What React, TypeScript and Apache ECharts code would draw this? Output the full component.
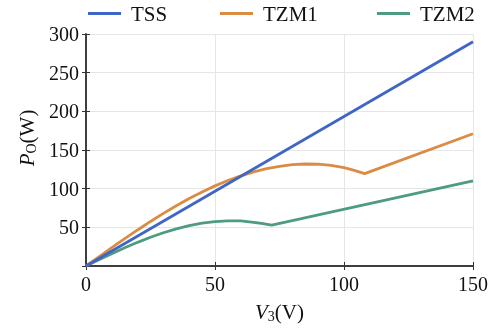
import React, { useEffect, useRef } from "react";
import * as echarts from "echarts";

const TSS_V = [0, 150];
const TSS_P = [0, 290];

const TZM1_V = [0, 5, 10, 15, 20, 25, 30, 35, 40, 45, 50, 55, 60, 65, 70, 75, 80, 85, 90, 95, 100, 104, 108, 150];
const TZM1_P = [0, 11.9, 23.7, 35.3, 46.6, 57.6, 68.1, 78.0, 87.3, 95.8, 103.6, 110.6, 116.6, 121.7, 125.8, 128.9, 131.0, 131.9, 131.6, 130.2, 127.2, 123.6, 119.5, 171];

const TZM2_V = [0, 5, 10, 15, 20, 25, 30, 35, 40, 45, 50, 55, 60, 65, 68, 72, 150];
const TZM2_P = [0, 8.0, 15.9, 23.5, 30.6, 37.2, 43.0, 48.1, 52.2, 55.3, 57.4, 58.4, 58.3, 56.5, 55.0, 52.9, 110];

const X_TICKS = [0, 50, 100, 150];
const Y_TICKS = [0, 50, 100, 150, 200, 250, 300];

const zip = (a: number[], b: number[]) => a.map((v, i) => [v, b[i]]);

const FONT = "'Liberation Serif', 'Times New Roman', serif";
const C_TSS = "#3F66C6";
const C_TZM1 = "#DA8C45";
const C_TZM2 = "#4D9C80";

export default function App() {
  const ref = useRef<HTMLDivElement>(null);
  useEffect(() => {
    if (!ref.current) return;
    const chart = echarts.init(ref.current, undefined, { renderer: "svg" });
    const axisLine = { show: true, lineStyle: { color: "#333", width: 1.5 } };
    const legendCommon = {
      top: 3,
      padding: 0,
      icon: "rect",
      itemWidth: 33,
      itemHeight: 3,
      itemGap: 8,
      textStyle: { fontFamily: FONT, fontSize: 21, color: "#111", padding: [0, 0, 0, 5] },
    };
    const nameRich = {
      i: { fontFamily: FONT, fontSize: 21, fontStyle: "italic", color: "#111" },
      s: { fontFamily: FONT, fontSize: 14, color: "#111", padding: [9, 0, 0, 0] },
      n: { fontFamily: FONT, fontSize: 21, color: "#111" },
    };
    chart.setOption({
      animation: false,
      textStyle: { fontFamily: FONT },
      legend: [
        { ...legendCommon, left: 88, data: ["TSS"] },
        { ...legendCommon, left: 220, data: ["TZM1"] },
        { ...legendCommon, left: 377, data: ["TZM2"] },
      ],
      grid: { left: 86, right: 19, top: 34, bottom: 61 },
      xAxis: [
        {
          type: "value",
          min: X_TICKS[0],
          max: X_TICKS[X_TICKS.length - 1],
          interval: 50,
          position: "bottom",
          axisLine,
          axisTick: { show: true, inside: true, length: 4, lineStyle: { color: "#333", width: 1 } },
          axisLabel: { fontFamily: FONT, fontSize: 20, color: "#111", margin: 8 },
          splitLine: { show: true, lineStyle: { color: "#e6e6e6", width: 1 } },
          name: "{i|V}{s|3}{n|(V)}",
          nameLocation: "middle",
          nameGap: 34,
          nameTextStyle: { fontFamily: FONT, fontSize: 21, color: "#111", rich: nameRich },
        },
        {
          type: "value",
          min: X_TICKS[0],
          max: X_TICKS[X_TICKS.length - 1],
          interval: 50,
          position: "top",
          axisLine,
          axisTick: { show: true, inside: true, length: 4, lineStyle: { color: "#333", width: 1 } },
          axisLabel: { show: false },
          splitLine: { show: false },
        },
      ],
      yAxis: [
        {
          type: "value",
          min: Y_TICKS[0],
          max: Y_TICKS[Y_TICKS.length - 1],
          interval: 50,
          position: "left",
          axisLine,
          axisTick: { show: true, inside: true, length: 4, lineStyle: { color: "#333", width: 1 } },
          axisLabel: { fontFamily: FONT, fontSize: 20, color: "#111", margin: 7, showMinLabel: false },
          splitLine: { show: true, lineStyle: { color: "#e6e6e6", width: 1 } },
          name: "{i|P}{s|O}{n|(W)}",
          nameLocation: "middle",
          nameGap: 48,
          nameTextStyle: { fontFamily: FONT, fontSize: 21, color: "#111", rich: nameRich, padding: [0, 0, 0, 24] },
        },
        {
          type: "value",
          min: Y_TICKS[0],
          max: Y_TICKS[Y_TICKS.length - 1],
          interval: 50,
          position: "right",
          axisLine,
          axisTick: { show: true, inside: true, length: 4, lineStyle: { color: "#333", width: 1 } },
          axisLabel: { show: false },
          splitLine: { show: false },
        },
      ],
      series: [
        {
          name: "TSS",
          type: "line",
          data: zip(TSS_V, TSS_P),
          showSymbol: false,
          symbol: "none",
          z: 5,
          lineStyle: { color: C_TSS, width: 2.8 },
          itemStyle: { color: C_TSS },
        },
        {
          name: "TZM1",
          type: "line",
          data: zip(TZM1_V, TZM1_P),
          showSymbol: false,
          symbol: "none",
          z: 4,
          lineStyle: { color: C_TZM1, width: 2.8 },
          itemStyle: { color: C_TZM1 },
        },
        {
          name: "TZM2",
          type: "line",
          data: zip(TZM2_V, TZM2_P),
          showSymbol: false,
          symbol: "none",
          z: 3,
          lineStyle: { color: C_TZM2, width: 2.8 },
          itemStyle: { color: C_TZM2 },
        },
      ],
    });
    return () => chart.dispose();
  }, []);
  return <div ref={ref} style={{ position: "fixed", left: 0, top: 0, width: 492, height: 328 }} />;
}
